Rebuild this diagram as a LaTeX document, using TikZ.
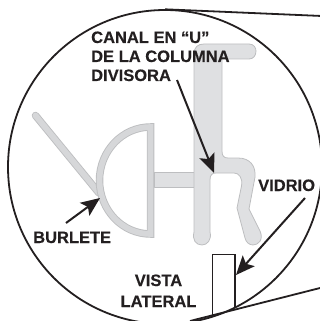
\documentclass[tikz,border=0pt]{standalone}
\usepackage{fontspec}
\setmainfont{Liberation Sans}[BoldFeatures={FakeBold=0.4}]
\usetikzlibrary{arrows.meta}
\definecolor{ink}{HTML}{231F20}
\definecolor{greyfill}{HTML}{DFE0E2}
\definecolor{greyedge}{HTML}{BDBEC0}
\definecolor{stripfill}{HTML}{D6D7D9}
\tikzset{
  x=1pt,y=-1pt,
  outline/.style={draw=ink,line width=1.8pt},
  channel/.style={fill=greyfill,draw=greyedge,line width=0.8pt,line join=round},
  callout/.style={draw=ink,line width=2pt,-{Stealth[length=19pt,width=16pt,inset=4pt]}},
  label/.style={inner sep=0pt,text=ink,font=\bfseries\fontsize{16.5}{18.5}\selectfont},
}
\begin{document}
\begin{tikzpicture}
\useasboundingbox (0,0) rectangle (320,321);
% lens
\draw[outline] (165,167) circle[radius=157];
\coordinate (t1) at (165,9.3);
\coordinate (t2) at (322,16);
\coordinate (b1) at (190,321);
\coordinate (b2) at (322,287.5);
\draw[outline] (t1) -- (t2);
\draw[outline] (b1) -- (b2);
% glass
\draw[outline,line join=miter] (212.5,316) -- (212.5,254.5) -- (235,254.5) -- (235,308);
% seal
\draw[greyedge,line width=7.5pt,line cap=round] (35.5,115.5) -- (99,193);
\draw[stripfill,line width=5.7pt,line cap=round] (35.5,115.5) -- (99,193);
\draw[greyedge,line width=7.5pt,line join=miter] (150.5,127) arc[start angle=-90,end angle=-270,x radius=51,y radius=53.5] -- cycle;
\draw[stripfill,line width=5.7pt,line join=miter] (150.5,127) arc[start angle=-90,end angle=-270,x radius=51,y radius=53.5] -- cycle;
% bridge
\draw[channel] (154,172.5) rectangle (196,187.5);
% U channel
\draw[channel] (194,54) .. controls (194,47) and (198,44) .. (204,44)
  -- (249,44) .. controls (254,44) and (256,48) .. (256,51)
  .. controls (256,56) and (253,59) .. (249,59)
  -- (222,59) -- (222,151) .. controls (222,156) and (224,158) .. (228,158)
  -- (238,158) .. controls (250,158) and (256,166) .. (255,177)
  -- (249,209) -- (260,231) .. controls (264,240) and (258,245) .. (253,245)
  .. controls (249,245) and (246,242) .. (245,238)
  -- (237,208) -- (241.5,186) .. controls (243,178) and (239,173) .. (234,173)
  -- (216,173) .. controls (212,173) and (210,175) .. (210,180)
  -- (210,232) .. controls (212,240) and (207,245) .. (202,245)
  .. controls (196,245) and (192,240) .. (194,232) -- cycle;
% labels
\node[label,anchor=base west] (canalA) at (91,43) {CANAL EN “U”};
\node[label,anchor=base west] (canalB) at (91,62) {DE LA COLUMNA};
\node[label,anchor=base west] (canalC) at (91,81) {DIVISORA};
\node[label,anchor=base west] (burlete) at (33,243) {BURLETE};
\node[label,anchor=base west] (vidrio) at (258,191) {VIDRIO};
\node[label,anchor=base] (vista) at (158.5,286) {VISTA};
\node[label,anchor=base] (lateral) at (158.5,307) {LATERAL};
% callouts
\coordinate (canalStart) at (177,80);
\coordinate (canalTip) at (214,173);
\coordinate (burStart) at (66,223);
\coordinate (burTip) at (100,198);
\coordinate (vidStart) at (305,198);
\coordinate (vidTip) at (236,275);
\draw[callout] (canalStart) -- (canalTip);
\draw[callout] (burStart) -- (burTip);
\draw[callout] (vidStart) -- (vidTip);
\end{tikzpicture}
\end{document}
